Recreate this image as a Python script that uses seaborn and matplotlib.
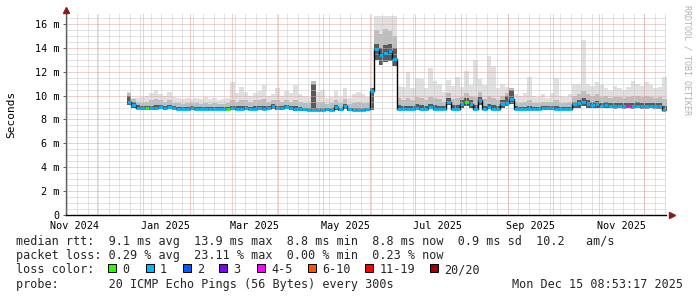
import numpy as np
import pandas as pd
import matplotlib
matplotlib.use("Agg")
import matplotlib.pyplot as plt
import matplotlib.transforms as mtransforms
from matplotlib.patches import Rectangle
import seaborn as sns

# ---------------- data (values in milliseconds, 3-day bins) ----------------
bin_start = "2024-12-21"
bin_days = 3

med = [9.5, 9.2, 9.0, 8.95, 8.95, 9.0, 8.95, 9.05, 8.95, 9.05,
       8.95, 8.9, 8.9, 8.9, 8.95, 8.9, 8.9, 8.9, 8.9, 8.9,
       8.9, 8.9, 8.9, 8.95, 8.9, 8.9, 8.95, 8.9, 8.9, 8.95,
       8.9, 8.95, 9.15, 8.95, 8.95, 9.05, 8.95, 8.9, 8.9, 8.85,
       8.8, 8.8, 8.8, 8.8, 8.85, 8.8, 9.05, 8.85, 9.1, 8.85,
       8.8, 8.8, 8.8, 8.85, 10.4, 13.9, 13.4, 13.6, 13.7, 13.1,
       8.9, 8.9, 8.9, 8.9, 9.0, 8.9, 8.9, 9.05, 8.9, 8.9,
       8.9, 9.5, 8.9, 8.9, 9.3, 9.45, 9.3, 8.9, 9.6, 8.9,
       9.05, 8.9, 8.9, 9.3, 9.4, 9.7, 8.9, 8.9, 8.9, 8.9,
       8.9, 8.9, 8.95, 9.0, 8.95, 8.9, 8.9, 8.9, 8.9, 9.3,
       9.35, 9.5, 9.3, 9.25, 9.3, 9.15, 9.2, 9.15, 9.1, 9.15,
       9.1, 9.15, 9.1, 9.15, 9.1, 9.1, 9.15, 9.1, 9.1, 8.8]

smoke_top = [10.3, 9.8, 9.8, 9.9, 10.0, 10.2, 10.5, 10.1, 10.0, 10.3,
             9.9, 9.8, 9.7, 9.8, 9.7, 9.8, 9.7, 9.9, 9.7, 9.8,
             9.6, 9.7, 9.8, 11.1, 10.2, 10.7, 10.3, 10.0, 10.2, 10.4,
             10.9, 10.0, 10.1, 10.6, 10.0, 10.4, 10.2, 10.9, 10.1, 10.0,
             9.9, 11.2, 10.3, 10.5, 9.8, 9.9, 10.4, 9.9, 10.6, 9.8,
             10.1, 10.3, 10.1, 9.9, 10.6, 16.7, 16.7, 16.7, 16.7, 16.7,
             10.8, 10.7, 12.0, 10.6, 11.5, 11.4, 10.6, 12.3, 11.2, 11.0,
             10.3, 11.3, 10.8, 11.6, 10.7, 12.1, 10.9, 13.0, 11.4, 10.9,
             13.3, 12.5, 10.6, 11.0, 10.7, 10.5, 10.1, 10.0, 10.2, 11.6,
             10.0, 9.9, 10.1, 9.8, 10.2, 11.5, 10.0, 9.9, 10.1, 11.0,
             11.0, 14.7, 11.0, 10.8, 11.1, 10.9, 10.6, 10.5, 10.8, 10.6,
             10.5, 10.7, 11.2, 11.0, 10.8, 11.1, 10.9, 10.6, 10.7, 11.6]

smoke_mid = [10.2, 9.7, 9.5, 9.4, 9.5, 9.6, 9.7, 9.6, 9.5, 9.6,
             9.4, 9.4, 9.3, 9.4, 9.35, 9.4, 9.3, 9.4, 9.3, 9.35,
             9.3, 9.3, 9.4, 9.6, 9.5, 9.6, 9.6, 9.5, 9.6, 9.6,
             9.7, 9.5, 9.6, 9.6, 9.5, 9.6, 9.5, 9.6, 9.5, 9.4,
             9.4, 11.2, 9.5, 9.5, 9.3, 9.4, 9.6, 9.4, 9.7, 9.3,
             9.4, 9.5, 9.4, 9.4, 10.6, 15.5, 15.2, 15.6, 15.4, 15.0,
             9.8, 9.6, 9.8, 9.6, 9.9, 9.8, 9.6, 9.9, 9.8, 9.7,
             9.5, 10.2, 9.7, 9.8, 9.9, 10.2, 10.0, 9.9, 10.3, 9.7,
             10.0, 9.8, 9.6, 10.0, 10.2, 10.6, 9.5, 9.4, 9.5, 9.6,
             9.4, 9.4, 9.5, 9.5, 9.5, 9.6, 9.4, 9.4, 9.5, 10.0,
             10.1, 10.4, 10.1, 10.0, 10.1, 9.9, 10.0, 9.8, 9.9, 9.9,
             9.8, 9.9, 10.0, 10.0, 9.9, 10.0, 9.9, 9.8, 9.9, 9.7]

smoke_dark = [10.0, 9.5, 9.2, 9.1, 9.1, 9.15, 9.2, 9.2, 9.1, 9.2,
              9.1, 9.05, 9.05, 9.05, 9.1, 9.05, 9.05, 9.05, 9.05, 9.05,
              9.05, 9.05, 9.05, 9.1, 9.1, 9.1, 9.15, 9.05, 9.1, 9.1,
              9.1, 9.1, 9.3, 9.1, 9.1, 9.2, 9.1, 9.1, 9.05, 9.0,
              9.0, 11.0, 9.0, 9.0, 9.0, 9.0, 9.2, 9.0, 9.3, 9.0,
              9.0, 9.0, 9.0, 9.0, 10.6, 14.3, 14.0, 14.2, 14.3, 14.0,
              9.2, 9.1, 9.15, 9.1, 9.3, 9.2, 9.1, 9.3, 9.2, 9.15,
              9.1, 9.8, 9.2, 9.2, 9.6, 9.8, 9.6, 9.2, 9.9, 9.15,
              9.3, 9.2, 9.15, 9.6, 10.0, 10.5, 9.1, 9.05, 9.05, 9.1,
              9.05, 9.05, 9.1, 9.15, 9.1, 9.1, 9.05, 9.05, 9.05, 9.5,
              9.6, 9.8, 9.6, 9.5, 9.55, 9.4, 9.5, 9.4, 9.35, 9.4,
              9.35, 9.4, 9.4, 9.45, 9.35, 9.4, 9.4, 9.35, 9.4, 9.1]

smoke_low = [9.2, 9.0, 8.85, 8.8, 8.8, 8.8, 8.8, 8.85, 8.8, 8.85,
             8.8, 8.8, 8.8, 8.8, 8.8, 8.8, 8.8, 8.8, 8.8, 8.8,
             8.8, 8.8, 8.8, 8.8, 8.8, 8.8, 8.8, 8.8, 8.8, 8.8,
             8.8, 8.8, 8.9, 8.8, 8.8, 8.85, 8.8, 8.75, 8.75, 8.7,
             8.7, 8.7, 8.7, 8.7, 8.7, 8.7, 8.8, 8.7, 8.85, 8.7,
             8.7, 8.7, 8.7, 8.7, 8.8, 13.0, 12.6, 12.8, 12.9, 12.5,
             8.8, 8.8, 8.8, 8.8, 8.85, 8.8, 8.8, 8.85, 8.8, 8.8,
             8.8, 9.2, 8.8, 8.8, 9.0, 9.1, 9.0, 8.8, 9.2, 8.8,
             8.85, 8.8, 8.8, 9.0, 9.1, 9.3, 8.8, 8.8, 8.8, 8.8,
             8.8, 8.8, 8.8, 8.8, 8.8, 8.8, 8.8, 8.8, 8.8, 9.0,
             9.0, 9.1, 9.0, 8.95, 9.0, 8.95, 8.95, 8.95, 8.9, 8.95,
             8.9, 8.95, 8.9, 8.95, 8.9, 8.9, 8.95, 8.9, 8.9, 8.7]

# loss category index per bin (0 -> "0", 1 -> "1", 4 -> "4-5", ...)
loss = [1, 1, 1, 1, 0, 1, 1, 1, 1, 1,
        1, 1, 1, 1, 1, 1, 1, 1, 1, 1,
        1, 1, 0, 1, 1, 1, 1, 1, 1, 1,
        1, 1, 1, 1, 1, 1, 1, 1, 1, 1,
        1, 1, 1, 1, 1, 1, 1, 1, 1, 1,
        1, 1, 1, 1, 1, 1, 1, 1, 1, 1,
        1, 1, 1, 1, 1, 1, 1, 1, 1, 1,
        1, 1, 1, 1, 1, 0, 1, 1, 1, 1,
        1, 1, 1, 1, 1, 1, 1, 1, 1, 1,
        1, 1, 1, 1, 1, 1, 1, 1, 1, 1,
        1, 1, 1, 1, 1, 1, 1, 1, 1, 1,
        1, 4, 1, 1, 1, 1, 1, 1, 1, 1]

loss_labels = ["0", "1", "2", "3", "4-5", "6-10", "11-19", "20/20"]
loss_colors = ["#26ff00", "#00b8ff", "#0059ff", "#7e00ff",
               "#ff00ff", "#ff5500", "#ff0000", "#a00000"]

x_start_time = "2024-11-10 08:53:17"
x_end_time = "2025-12-15 08:53:17"
month_label_dates = ["2024-11-16", "2025-01-16", "2025-03-16", "2025-05-16",
                     "2025-07-16", "2025-09-16", "2025-11-16"]
month_label_texts = ["Nov 2024", "Jan 2025", "Mar 2025", "May 2025",
                     "Jul 2025", "Sep 2025", "Nov 2025"]
ytick_values = [0, 2, 4, 6, 8, 10, 12, 14, 16]
ytick_labels = ["0", "2 m", "4 m", "6 m", "8 m", "10 m", "12 m", "14 m", "16 m"]

legend_line1 = "median rtt:  9.1 ms avg  13.9 ms max  8.8 ms min  8.8 ms now  0.9 ms sd  10.2   am/s"
legend_line2 = "packet loss: 0.29 % avg  23.11 % max  0.00 % min  0.23 % now"
legend_line3 = "loss color:"
legend_line4 = "probe:       20 ICMP Echo Pings (56 Bytes) every 300s"
date_text = "Mon Dec 15 08:53:17 2025"

# ---------------- drawing ----------------
sns.set_style("white")
plt.rcParams["font.family"] = ["DejaVu Sans Mono", "DejaVu Sans"]

W, H = 697, 297
fig = plt.figure(figsize=(W / 100, H / 100), dpi=100)
fig.patch.set_facecolor("white")
ax = fig.add_axes([66 / W, (H - 215) / H, 600 / W, (215 - 13) / H])
ax.set_facecolor("white")

t0 = pd.Timestamp(bin_start)
edges = (t0 + pd.to_timedelta(np.arange(len(med) + 1) * bin_days, unit="D")).to_numpy()


def stepvals(v):
    v = np.asarray(v, dtype=float)
    return np.append(v, v[-1])


ax.fill_between(edges, stepvals(smoke_low), stepvals(smoke_top), step="post",
                color="#E0E0E0", lw=0, zorder=1)
ax.fill_between(edges, stepvals(smoke_low), stepvals(smoke_mid), step="post",
                color="#BDBDBD", lw=0, zorder=1.1)
ax.fill_between(edges, stepvals(smoke_low), stepvals(smoke_dark), step="post",
                color="#5A5A5A", lw=0, zorder=1.2)

# grid (1px dotted)
xmin = pd.Timestamp(x_start_time)
xmax = pd.Timestamp(x_end_time)
weeks = pd.date_range("2024-11-11", "2025-12-15", freq="W-MON")
months = pd.date_range("2024-12-01", "2025-12-01", freq="MS")
dots = (0, (1, 1))
minor_col = "#C8C8C8"
major_col = "#E4A0A0"
grid_lines = []
for w in weeks:
    grid_lines.append(ax.axvline(w, color=minor_col, lw=0.72, ls=dots, zorder=2))
for yv in np.arange(0.5, 16.9, 0.5):
    if yv % 2 != 0:
        grid_lines.append(ax.axhline(yv, color=minor_col, lw=0.72, ls=dots, zorder=2))
for m in months:
    grid_lines.append(ax.axvline(m, color=major_col, lw=0.72, ls=dots, zorder=2.1))
for yv in range(2, 17, 2):
    grid_lines.append(ax.axhline(yv, color=major_col, lw=0.72, ls=dots, zorder=2.1))
for gl in grid_lines:
    gl.set_snap(True)

# median line (black steps, then loss-coloured segments)
sns.lineplot(x=edges, y=stepvals(med), drawstyle="steps-post", color="black",
             lw=1.0, ax=ax, zorder=3, estimator=None)
ax.hlines(med, edges[:-1], edges[1:], colors=[loss_colors[k] for k in loss],
          lw=2.0, zorder=4)

ax.set_xlim(xmin, xmax)
ax.set_ylim(0, 16.92)

ax.set_yticks(ytick_values)
ax.set_yticklabels(ytick_labels)
ax.set_xticks(pd.to_datetime(month_label_dates))
ax.set_xticklabels(month_label_texts)
ax.set_xticks(months, minor=True)
ax.tick_params(axis="x", which="major", length=0, pad=4.5, labelsize=7.3, colors="black")
ax.tick_params(axis="x", which="minor", length=2.5, width=0.7, color="#404040", direction="out")
ax.tick_params(axis="y", which="major", length=2, width=0.7, pad=2.5, labelsize=7.3,
               color="#606060", labelcolor="black", direction="out", left=True)
for lab in ax.get_xticklabels() + ax.get_yticklabels():
    lab.set_family("DejaVu Sans Mono")

for s in ["top", "right"]:
    ax.spines[s].set_visible(False)
ax.spines["left"].set_color("#606060")
ax.spines["left"].set_linewidth(1.0)
ax.spines["bottom"].set_color("black")
ax.spines["bottom"].set_linewidth(1.0)
ax.spines["left"].set_zorder(5)
ax.spines["bottom"].set_zorder(5)

# axis arrows
arrow_col = "#8B1A1A"
tr_up = mtransforms.offset_copy(ax.transAxes, fig=fig, x=0, y=2.2, units="points")
ax.plot([0], [1], marker="^", ms=5, color=arrow_col, transform=tr_up, clip_on=False, zorder=6)
tr_rt = mtransforms.offset_copy(ax.transAxes, fig=fig, x=4.5, y=0, units="points")
ax.plot([1], [0], marker=">", ms=5, color=arrow_col, transform=tr_rt, clip_on=False, zorder=6)

ax.set_ylabel("")
ax.set_xlabel("")
fig.text(11 / W, 1 - 114 / H, "Seconds", rotation=90, ha="center", va="center",
         fontsize=8, family="DejaVu Sans Mono", color="black")
fig.text(687 / W, 1 - 60 / H, "RRDTOOL / TOBI OETIKER", rotation=270, ha="center",
         va="center", fontsize=6, family="DejaVu Sans Mono", color="#B0B0B0")

# legend text
fs = 8.5


def fy(y):
    return 1 - y / H


fig.text(16 / W, fy(244.5), legend_line1, fontsize=fs, va="baseline", ha="left")
fig.text(16 / W, fy(259), legend_line2, fontsize=fs, va="baseline", ha="left")
fig.text(16 / W, fy(273.3), legend_line3, fontsize=fs, va="baseline", ha="left")
fig.text(16 / W, fy(287.7), legend_line4, fontsize=fs, va="baseline", ha="left")
fig.text(683 / W, fy(287.7), date_text, fontsize=fs, va="baseline", ha="right")

box_x = [108.3, 145.7, 182.7, 219.3, 257.0, 307.6, 365.3, 430.2]
for bx, lab, col in zip(box_x, loss_labels, loss_colors):
    fig.patches.append(Rectangle((bx / W, fy(272.3)), 8 / W, 8 / H, transform=fig.transFigure,
                                 facecolor=col, edgecolor="black", lw=0.7))
    fig.text((bx + 14.2) / W, fy(273.3), lab, fontsize=fs, va="baseline", ha="left")

fig.savefig("out.png", dpi=100, facecolor="white")
